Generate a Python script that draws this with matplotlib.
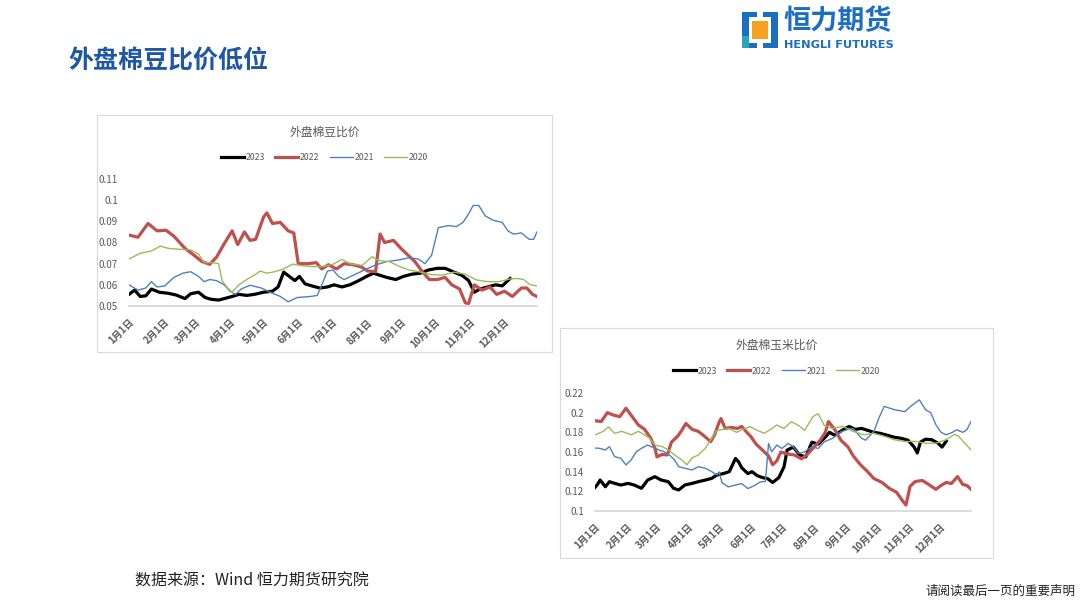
import matplotlib
matplotlib.use("Agg")
import matplotlib.pyplot as plt
from matplotlib.patches import Rectangle
from matplotlib.ticker import FuncFormatter

plt.rcParams['font.family'] = ['Noto Sans CJK SC', 'DejaVu Sans']

# 月份刻度（一年中的第几天）
month_days = [0, 31, 59, 90, 120, 151, 181, 212, 243, 273, 304, 334]
month_labels = [f"{m}月1日" for m in range(1, 13)]
years = ["2023", "2022", "2021", "2020"]

# ---- 外盘棉豆比价 ----
soy_d23 = [0, 5, 10, 15, 20, 27, 35, 42, 50, 55, 62, 68, 73, 80, 85, 92, 98, 105, 112, 120, 128, 133, 138, 143,
           148, 152, 157, 163, 170, 177, 183, 190, 197, 205, 212, 218, 224, 230, 238, 245, 252, 260, 267, 275,
           282, 290, 297, 303, 308, 313, 320, 327, 333, 340]
soy_v23 = [0.0555, 0.0575, 0.0545, 0.0548, 0.0580, 0.0565, 0.0560, 0.0552, 0.0535, 0.0558, 0.0565, 0.0540,
           0.0532, 0.0528, 0.0535, 0.0545, 0.0555, 0.0550, 0.0555, 0.0565, 0.0570, 0.0590, 0.0660, 0.0640,
           0.0620, 0.0640, 0.0605, 0.0595, 0.0585, 0.0590, 0.0600, 0.0590, 0.0600, 0.0620, 0.0640, 0.0655,
           0.0645, 0.0635, 0.0625, 0.0640, 0.0650, 0.0655, 0.0670, 0.0678, 0.0678, 0.0660, 0.0645, 0.0620,
           0.0565, 0.0580, 0.0590, 0.0600, 0.0595, 0.0630]
soy_d22 = [0, 8, 17, 25, 33, 40, 50, 58, 65, 72, 78, 85, 92, 97, 103, 108, 113, 120, 123, 128, 135, 142, 147,
           151, 160, 167, 172, 178, 185, 192, 200, 207, 213, 220, 224, 228, 236, 243, 248, 255, 262, 268, 275,
           282, 288, 295, 300, 303, 308, 315, 322, 328, 335, 342, 350, 355, 360, 364]
soy_v22 = [0.0835, 0.0825, 0.0890, 0.0855, 0.0858, 0.0830, 0.0772, 0.0740, 0.0710, 0.0697, 0.0730, 0.0795,
           0.0855, 0.0790, 0.0850, 0.0810, 0.0815, 0.0920, 0.0940, 0.0890, 0.0895, 0.0855, 0.0845, 0.0700,
           0.0700, 0.0705, 0.0675, 0.0695, 0.0675, 0.0700, 0.0695, 0.0685, 0.0665, 0.0662, 0.0840, 0.0800,
           0.0810, 0.0770, 0.0745, 0.0710, 0.0660, 0.0625, 0.0625, 0.0635, 0.0600, 0.0580, 0.0515, 0.0512,
           0.0600, 0.0575, 0.0590, 0.0555, 0.0570, 0.0545, 0.0585, 0.0585, 0.0555, 0.0545]
soy_d21 = [0, 8, 15, 20, 25, 32, 40, 48, 55, 62, 67, 72, 78, 85, 90, 95, 100, 108, 118, 128, 135, 142, 150,
           162, 168, 172, 177, 182, 187, 192, 200, 210, 220, 230, 240, 250, 258, 264, 270, 276, 285, 292, 298,
           303, 307, 312, 318, 325, 333, 338, 343, 350, 357, 361, 364]
soy_v21 = [0.0600, 0.0575, 0.0585, 0.0615, 0.0590, 0.0595, 0.0635, 0.0655, 0.0662, 0.0640, 0.0615, 0.0625,
           0.0620, 0.0600, 0.0570, 0.0555, 0.0580, 0.0598, 0.0585, 0.0560, 0.0545, 0.0520, 0.0540, 0.0545,
           0.0550, 0.0600, 0.0665, 0.0670, 0.0640, 0.0625, 0.0645, 0.0670, 0.0694, 0.0710, 0.0717, 0.0728,
           0.0722, 0.0700, 0.0740, 0.0870, 0.0880, 0.0875, 0.0895, 0.0935, 0.0975, 0.0975, 0.0925, 0.0905,
           0.0895, 0.0855, 0.0840, 0.0845, 0.0815, 0.0815, 0.0850]
soy_d20 = [0, 10, 20, 28, 35, 45, 55, 62, 67, 75, 80, 83, 88, 92, 98, 105, 113, 117, 123, 130, 138, 146, 155,
           165, 175, 182, 190, 198, 208, 217, 222, 232, 242, 250, 260, 270, 280, 290, 300, 310, 320, 330, 340,
           347, 352, 358, 364]
soy_v20 = [0.0722, 0.0749, 0.0760, 0.0783, 0.0772, 0.0768, 0.0765, 0.0745, 0.0705, 0.0705, 0.0700, 0.0620,
           0.0585, 0.0565, 0.0600, 0.0625, 0.0650, 0.0665, 0.0655, 0.0662, 0.0675, 0.0698, 0.0690, 0.0686,
           0.0688, 0.0697, 0.0720, 0.0698, 0.0692, 0.0733, 0.0715, 0.0710, 0.0685, 0.0670, 0.0660, 0.0648,
           0.0646, 0.0660, 0.0650, 0.0623, 0.0615, 0.0615, 0.0628, 0.0630, 0.0625, 0.0600, 0.0595]

# ---- 外盘棉玉米比价 ----
corn_d23 = [0, 2, 5, 10, 14, 19, 25, 32, 38, 45, 51, 58, 64, 71, 76, 81, 87, 94, 100, 107, 113, 118, 124, 130,
            136, 139, 142, 148, 152, 157, 162, 167, 172, 178, 183, 186, 192, 198, 204, 210, 216, 222, 227, 232,
            240, 246, 252, 258, 264, 270, 276, 283, 290, 296, 303, 309, 312, 315, 320, 326, 332, 336, 340]
corn_v23 = [0.1240, 0.1264, 0.1315, 0.1247, 0.1298, 0.1281, 0.1264, 0.1281, 0.1264, 0.1231, 0.1315, 0.1349,
            0.1315, 0.1298, 0.1231, 0.1214, 0.1264, 0.1281, 0.1298, 0.1315, 0.1332, 0.1366, 0.1380, 0.1400,
            0.1534, 0.1500, 0.1440, 0.1380, 0.1400, 0.1360, 0.1340, 0.1330, 0.1290, 0.1340, 0.1450, 0.1620,
            0.1650, 0.1570, 0.1550, 0.1700, 0.1680, 0.1740, 0.1800, 0.1770, 0.1826, 0.1860, 0.1830, 0.1840,
            0.1820, 0.1800, 0.1790, 0.1770, 0.1750, 0.1740, 0.1720, 0.1650, 0.1590, 0.1700, 0.1730, 0.1725,
            0.1690, 0.1650, 0.1710]
corn_d22 = [0, 6, 12, 18, 24, 30, 36, 42, 48, 54, 58, 60, 65, 70, 74, 80, 84, 88, 94, 100, 106, 112, 116, 120,
            122, 126, 132, 138, 142, 147, 151, 156, 162, 168, 172, 176, 180, 186, 193, 200, 206, 212, 218, 223,
            226, 232, 238, 245, 250, 257, 263, 270, 278, 285, 292, 298, 301, 305, 310, 317, 323, 330, 335, 340,
            345, 351, 356, 360, 364]
corn_v22 = [0.1918, 0.1910, 0.2000, 0.1975, 0.1960, 0.2045, 0.1960, 0.1875, 0.1830, 0.1740, 0.1640, 0.1550,
            0.1575, 0.1570, 0.1700, 0.1760, 0.1820, 0.1890, 0.1830, 0.1810, 0.1760, 0.1705, 0.1780, 0.1900,
            0.1940, 0.1840, 0.1850, 0.1840, 0.1860, 0.1800, 0.1755, 0.1680, 0.1620, 0.1560, 0.1470, 0.1510,
            0.1600, 0.1580, 0.1570, 0.1530, 0.1580, 0.1650, 0.1720, 0.1800, 0.1910, 0.1830, 0.1720, 0.1650,
            0.1560, 0.1470, 0.1410, 0.1330, 0.1290, 0.1230, 0.1190, 0.1100, 0.1060, 0.1250, 0.1300, 0.1310,
            0.1270, 0.1220, 0.1260, 0.1290, 0.1280, 0.1350, 0.1270, 0.1260, 0.1220]
corn_d21 = [0, 4, 10, 14, 19, 25, 30, 35, 40, 45, 51, 58, 62, 67, 72, 77, 81, 87, 94, 100, 107, 113, 118, 120,
            123, 129, 135, 142, 148, 155, 160, 165, 168, 171, 176, 181, 187, 192, 197, 203, 210, 216, 222, 230,
            238, 245, 250, 258, 262, 270, 275, 280, 290, 300, 305, 310, 314, 320, 325, 330, 335, 340, 346, 350,
            356, 360, 364]
corn_v21 = [0.1640, 0.1638, 0.1621, 0.1654, 0.1553, 0.1536, 0.1468, 0.1520, 0.1603, 0.1638, 0.1671, 0.1638,
            0.1621, 0.1603, 0.1570, 0.1519, 0.1451, 0.1434, 0.1417, 0.1451, 0.1434, 0.1400, 0.1366, 0.1398,
            0.1290, 0.1245, 0.1262, 0.1279, 0.1228, 0.1262, 0.1296, 0.1300, 0.1687, 0.1602, 0.1670, 0.1636,
            0.1687, 0.1653, 0.1585, 0.1602, 0.1653, 0.1636, 0.1704, 0.1738, 0.1806, 0.1830, 0.1840, 0.1740,
            0.1720, 0.1810, 0.1950, 0.2064, 0.2030, 0.2010, 0.2060, 0.2100, 0.2130, 0.2030, 0.2000, 0.1877,
            0.1800, 0.1775, 0.1800, 0.1826, 0.1800, 0.1826, 0.1910]
corn_d20 = [0, 8, 13, 19, 26, 35, 42, 48, 53, 58, 65, 71, 77, 84, 89, 94, 100, 107, 113, 118, 124, 130, 137,
            143, 150, 157, 164, 170, 176, 183, 190, 197, 203, 211, 216, 222, 230, 240, 250, 260, 270, 280, 290,
            300, 310, 320, 330, 340, 348, 352, 358, 364]
corn_v20 = [0.1773, 0.1810, 0.1855, 0.1790, 0.1810, 0.1775, 0.1810, 0.1775, 0.1740, 0.1670, 0.1655, 0.1620,
            0.1570, 0.1520, 0.1470, 0.1540, 0.1570, 0.1640, 0.1740, 0.1820, 0.1830, 0.1840, 0.1800, 0.1830,
            0.1857, 0.1820, 0.1790, 0.1830, 0.1874, 0.1840, 0.1908, 0.1870, 0.1820, 0.1960, 0.1990, 0.1870,
            0.1840, 0.1860, 0.1810, 0.1775, 0.1790, 0.1760, 0.1724, 0.1707, 0.1707, 0.1690, 0.1690, 0.1724,
            0.1780, 0.1760, 0.1690, 0.1620]

colors = ['#000000', '#C0504D', '#4F81BD', '#9BBB59']
widths = [2.3, 2.3, 1.0, 1.0]
grey = '#595959'

W, H = 1080, 607
fig = plt.figure(figsize=(W / 100, H / 100), dpi=100)
fig.patch.set_facecolor('white')


def rect(x0, y0, x1, y1):
    return [x0 / W, 1 - y1 / H, (x1 - x0) / W, (y1 - y0) / H]


def fmt(v, pos):
    return ('%.2f' % v).rstrip('0')


def chart(box, area, title, series, ylim, yticks):
    bx = rect(*box)
    fig.add_artist(Rectangle((bx[0], bx[1]), bx[2], bx[3], transform=fig.transFigure,
                             fill=False, ec='#d9d9d9', lw=0.8))
    ax = fig.add_axes(rect(*area))
    for (d, v), c, lw, lab in zip(series, colors, widths, years):
        ax.plot(d, v, color=c, lw=lw, label=lab, solid_joinstyle='round')
    ax.set_xlim(0, 364)
    ax.set_ylim(*ylim)
    ax.set_yticks(yticks)
    ax.yaxis.set_major_formatter(FuncFormatter(fmt))
    ax.set_xticks(month_days)
    ax.set_xticklabels(month_labels, rotation=45, ha='right', va='top',
                       rotation_mode='anchor', fontsize=7, fontweight='bold', color=grey)
    ax.tick_params(axis='both', length=0)
    ax.tick_params(axis='x', pad=8)
    ax.tick_params(axis='y', labelsize=7, labelcolor=grey, pad=8)
    for s in ['top', 'right', 'left']:
        ax.spines[s].set_visible(False)
    ax.spines['bottom'].set_color('#d9d9d9')
    ax.spines['bottom'].set_linewidth(1.3)
    ax.set_facecolor('none')
    cx = (box[0] + box[2]) / 2 / W
    fig.text(cx, 1 - (box[1] + 17) / H, title, ha='center', va='center', fontsize=8.5, color=grey)
    ax.legend(loc='center', bbox_to_anchor=(cx, 1 - (box[1] + 43) / H), bbox_transform=fig.transFigure,
              ncol=4, frameon=False, fontsize=6.3, handlelength=2.6, handletextpad=0.2,
              columnspacing=1.2, labelcolor=grey)
    return ax


chart((97, 115, 552, 352), (129, 179, 537, 306), '外盘棉豆比价',
      [(soy_d23, soy_v23), (soy_d22, soy_v22), (soy_d21, soy_v21), (soy_d20, soy_v20)],
      (0.05, 0.11), [0.05, 0.06, 0.07, 0.08, 0.09, 0.10, 0.11])
chart((560, 328, 993, 558), (595, 393, 971, 511), '外盘棉玉米比价',
      [(corn_d23, corn_v23), (corn_d22, corn_v22), (corn_d21, corn_v21), (corn_d20, corn_v20)],
      (0.10, 0.22), [0.10, 0.12, 0.14, 0.16, 0.18, 0.20, 0.22])

# 页面标题
fig.text(68 / W, 1 - 61 / H, '外盘棉豆比价低位', ha='left', va='center', fontsize=18,
         fontweight='bold', color='#1F56A5')

# 公司标志
blue = '#1B6EC2'
for (x0, y0, x1, y1), c in [((742, 12, 749, 48), blue), ((742, 12, 757, 17), blue), ((742, 43, 757, 48), blue),
                            ((771, 12, 778, 48), blue), ((763, 12, 778, 17), blue), ((763, 43, 778, 48), blue),
                            ((752, 21, 768, 39), '#F4A21F'), ((742, 36, 749, 48), '#2BA6B8')]:
    r = rect(x0, y0, x1, y1)
    fig.add_artist(Rectangle((r[0], r[1]), r[2], r[3], transform=fig.transFigure, fc=c, ec='none'))
fig.text(783 / W, 1 - 21 / H, '恒力期货', ha='left', va='center', fontsize=19.5, fontweight='bold', color=blue)
fig.text(784 / W, 1 - 45 / H, 'HENGLI FUTURES', ha='left', va='center', fontsize=8.2, fontweight='bold',
         color=blue, family=['DejaVu Sans'])

# 页脚
fig.text(135 / W, 1 - 581 / H, '数据来源：Wind 恒力期货研究院', ha='left', va='center', fontsize=11.5,
         color='#222222')
fig.text(1075 / W, 1 - 591 / H, '请阅读最后一页的重要声明', ha='right', va='center', fontsize=9,
         color='#222222')

fig.savefig('out.png', dpi=100)
